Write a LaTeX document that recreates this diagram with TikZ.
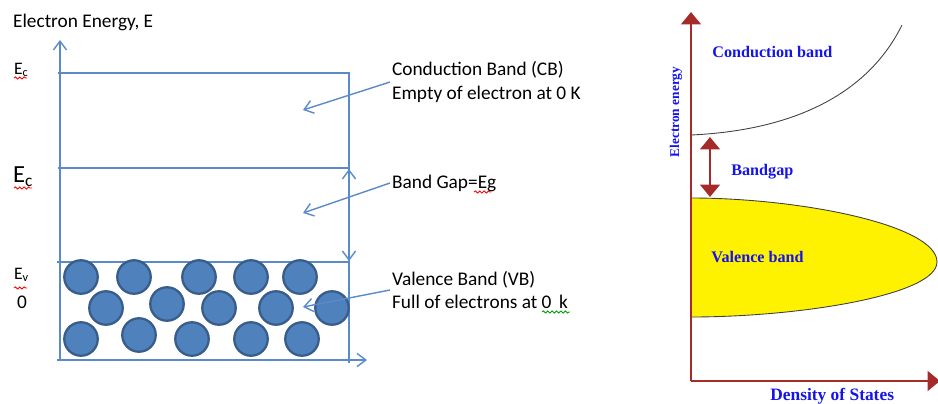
\documentclass[tikz,border=0pt]{standalone}
\usepackage{fontspec}
\setmainfont{Carlito}
\newfontfamily\dosfont{Liberation Serif}
\usetikzlibrary{arrows.meta,decorations.pathmorphing}

\definecolor{bandline}{RGB}{91,138,201}
\definecolor{ballfill}{RGB}{79,129,189}
\definecolor{balledge}{RGB}{56,93,138}
\definecolor{axisred}{RGB}{165,42,42}
\definecolor{dosblue}{RGB}{20,20,235}

\begin{document}
\begin{tikzpicture}[x=0.02cm,y=-0.02cm,
  band line/.style={draw=bandline,line width=0.8pt},
  open tip/.style={-{Straight Barb[length=5pt,width=7.5pt]}},
  axis line/.style={draw=axisred,line width=1.7pt},
  fat tip/.style={-{Triangle[length=7pt,width=11pt]}},
  dos text/.style={text=dosblue,font=\dosfont\bfseries\fontsize{9.2}{11}\selectfont,inner sep=0pt},
  left text/.style={font=\fontsize{11}{13.4}\selectfont,inner sep=1pt,align=left},
  spell/.style={draw=red,line width=0.5pt,decorate,decoration={snake,amplitude=0.6pt,segment length=2.5pt}}]
\useasboundingbox (0,0) rectangle (938,403);

% Band picture
\coordinate (origin) at (60,360);
\coordinate (etop) at (60,40);
\coordinate (kend) at (367,360);
\coordinate (cbleft) at (58,73);
\coordinate (cbright) at (349,73);
\coordinate (gapleft) at (58,168);
\coordinate (gapright) at (349,168);
\coordinate (vbleft) at (57,262);
\coordinate (vbright) at (349,262);
\coordinate (edgelow) at (349,363);

\draw[band line] (cbleft) -- (cbright) -- (edgelow);
\draw[band line] (gapleft) -- (gapright);
\draw[band line] (vbleft) -- (vbright);
\draw[band line,open tip] (origin) -- (etop);
\draw[band line,open tip] (57,360) -- (kend);
\draw[band line,{Straight Barb[length=5pt,width=7.5pt]}-{Straight Barb[length=5pt,width=7.5pt]}] (349,169) -- (349,261);

% electrons
\foreach \ex/\ey in {81/277,134/277,199/277,251/277,300/277,
                     106/308,167/304,219/308,276/308,332/308,
                     81/339,139/335,192/339,251/339,302/339}
  \filldraw[fill=ballfill,draw=balledge,line width=1.3pt] (\ex,\ey) circle [radius=0.335cm];

\node[left text,anchor=west] (energy) at (11,22) {Electron Energy, E};
\node[left text,anchor=west] (ectop) at (12,70) {\fontsize{10}{12}\selectfont E\textsubscript{c}};
\node[left text,anchor=west] (ecgap) at (11,177) {\fontsize{14}{16}\selectfont E\textsubscript{c}};
\node[left text,anchor=west] (ev) at (12,275) {\fontsize{10}{12}\selectfont E\textsubscript{v}};
\node[left text,anchor=west] (zero) at (15,302) {0};
\draw[spell] (14,78) -- (27,78);
\draw[spell] (14,188) -- (32,188);
\draw[spell] (14,288) -- (27,288);

\coordinate (cbtip) at (303,110);
\coordinate (gaptip) at (303,213);
\coordinate (vbtip) at (303,307);
\node[left text,anchor=west] (cbnote) at (390,82) {Conduction Band (CB)\\Empty of electron at 0 K};
\node[left text,anchor=west] (gapnote) at (390,183) {Band Gap=Eg};
\node[left text,anchor=west] (vbnote) at (390,290) {Valence Band (VB)\\Full of electrons at 0\, k};
\draw[spell] (474,192) -- (491,192);
\draw[spell,draw=green!60!black] (542,312) -- (570,312);
\draw[band line,open tip] (cbnote.west) -- (cbtip);
\draw[band line,open tip] (gapnote.west) -- (gaptip);
\draw[band line,open tip] (vbnote.west) -- (vbtip);

% Density of states
\coordinate (dorigin) at (691,381);
\coordinate (dtop) at (691,12);
\coordinate (dright) at (940,381);
\coordinate (cbmin) at (691,135);
\coordinate (cbend) at (902,25);
\coordinate (vbmax) at (691,198);
\coordinate (vbmin) at (691,317);
\coordinate (gaphi) at (710,137);
\coordinate (gaplo) at (710,197);

\filldraw[fill=yellow,draw=black!75,line width=0.5pt] (vbmax) .. controls (800,198) and (937,225) .. (937,262) .. controls (937,295) and (800,317) .. (vbmin) -- cycle;
\draw[black!75,line width=0.5pt] (cbmin) .. controls (800,130) and (870,90) .. (cbend);
\draw[axis line,fat tip] (dorigin) -- (dtop);
\draw[axis line,fat tip] (dorigin) -- (dright);
\draw[axis line,{Triangle[length=7pt,width=11pt]}-{Triangle[length=7pt,width=11pt]}] (gaphi) -- (gaplo);

\node[dos text,anchor=west] (cbname) at (712,52) {Conduction band};
\node[dos text,anchor=west] (gapname) at (731,172) {Bandgap};
\node[dos text,anchor=west] (vbname) at (711,257) {Valence band};
\node[dos text,anchor=west,font=\dosfont\bfseries\fontsize{9.9}{11}\selectfont] (dosname) at (770,396) {Density of States};
\node[dos text,rotate=90,font=\dosfont\bfseries\fontsize{7.6}{9}\selectfont] (ename) at (676,112) {Electron energy};
\end{tikzpicture}
\end{document}
